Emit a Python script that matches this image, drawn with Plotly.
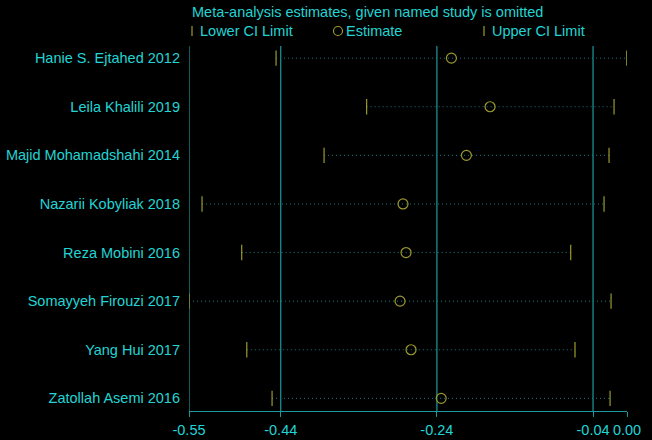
import plotly.graph_objects as go

# studies, top to bottom
studies = [
    "Hanie S. Ejtahed 2012",
    "Leila Khalili 2019",
    "Majid Mohamadshahi 2014",
    "Nazarii Kobyliak 2018",
    "Reza Mobini 2016",
    "Somayyeh Firouzi 2017",
    "Yang Hui 2017",
    "Zatollah Asemi 2016",
]
lower = [-0.446, -0.330, -0.3845, -0.5408, -0.490, -0.5575, -0.4835, -0.4511]
estimate = [-0.2214, -0.1719, -0.2022, -0.2834, -0.2795, -0.2872, -0.2731, -0.2345]
upper = [0.0032, -0.0131, -0.0195, -0.0259, -0.0686, -0.0169, -0.0631, -0.0182]

# reference lines (min, overall CI low, overall estimate, overall CI high) and axis ticks
ref_lines = [-0.5575, -0.44, -0.24, -0.04]
tick_vals = [-0.5575, -0.44, -0.24, -0.04, 0.0035]
tick_text = ["-0.55", "-0.44", "-0.24", "-0.04", "0.00"]

legend_title = "Meta-analysis estimates, given named study is omitted"
legend_labels = ["Lower CI Limit", "Estimate", "Upper CI Limit"]

txt = "#22d4d4"
teal = "#1a9aa0"
olive = "#9c9a2c"
font = "Liberation Sans, Arial, sans-serif"
fs = 14.5

W, H = 652, 440
L, R, T, B = 189, 25, 46, 29
pw, ph = W - L - R, H - T - B


def px(x):
    return (x - L) / pw


def py(y):
    return 1 + (T - y) / ph


rows = list(range(1, len(studies) + 1))

fig = go.Figure()

# dotted CI lines
xs, ys = [], []
for r, lo, up in zip(rows, lower, upper):
    xs += [lo, up, None]
    ys += [r, r, None]
fig.add_trace(go.Scatter(
    x=xs, y=ys, mode="lines",
    line=dict(color="#1d7a80", width=1, dash="1px,3px"),
    showlegend=False, hoverinfo="skip",
))

fig.add_trace(go.Scatter(
    x=lower, y=rows, mode="markers", name="Lower CI Limit",
    marker=dict(symbol="line-ns-open", size=11, color=olive, line=dict(color=olive, width=1.2)),
))
fig.add_trace(go.Scatter(
    x=estimate, y=rows, mode="markers", name="Estimate",
    marker=dict(symbol="circle-open", size=10, color=olive, line=dict(color=olive, width=1.2)),
))
fig.add_trace(go.Scatter(
    x=upper, y=rows, mode="markers", name="Upper CI Limit",
    marker=dict(symbol="line-ns-open", size=11, color=olive, line=dict(color=olive, width=1.2)),
))

for v in ref_lines:
    fig.add_shape(type="line", x0=v, x1=v, y0=0, y1=1, xref="x", yref="paper",
                  line=dict(color=teal, width=1.2), layer="below")

# hand-drawn legend
fig.add_annotation(x=px(190), y=py(12), xref="paper", yref="paper", text=legend_title,
                   showarrow=False, xanchor="left", yanchor="middle",
                   font=dict(color=txt, size=fs, family=font))
sym_x = [192, 338, 484]
text_x = [198, 344, 490]
for i, (sx, tx, lab) in enumerate(zip(sym_x, text_x, legend_labels)):
    if i == 1:
        fig.add_shape(type="circle", xref="paper", yref="paper",
                      x0=px(sx - 4.5), x1=px(sx + 4.5), y0=py(35.5), y1=py(26.5),
                      line=dict(color=olive, width=1.2))
    else:
        fig.add_shape(type="line", xref="paper", yref="paper",
                      x0=px(sx), x1=px(sx), y0=py(36), y1=py(26),
                      line=dict(color=olive, width=1.2))
    fig.add_annotation(x=px(tx), y=py(31), xref="paper", yref="paper", text=lab,
                       showarrow=False, xanchor="left", yanchor="middle",
                       font=dict(color=txt, size=fs, family=font))

fig.update_xaxes(
    range=[tick_vals[0], tick_vals[-1]],
    tickvals=tick_vals, ticktext=tick_text,
    showgrid=False, zeroline=False,
    showline=True, linecolor=teal, linewidth=1.2,
    ticks="outside", ticklen=5, tickcolor=teal, tickwidth=1.2,
    tickfont=dict(color=txt, size=fs, family=font),
)
fig.update_yaxes(
    range=[8.26, 0.75],
    tickvals=rows, ticktext=studies,
    showgrid=False, zeroline=False, showline=False,
    ticks="", ticklabelstandoff=8,
    tickfont=dict(color=txt, size=fs, family=font),
)

fig.update_layout(
    width=W, height=H,
    margin=dict(l=L, r=R, t=T, b=B, autoexpand=False),
    paper_bgcolor="black", plot_bgcolor="black",
    font=dict(family=font, color=txt, size=fs),
    showlegend=False,
)

fig.write_html("out.html", config={"displayModeBar": False},
               post_script="document.body.style.margin='0';document.body.style.background='black';")
